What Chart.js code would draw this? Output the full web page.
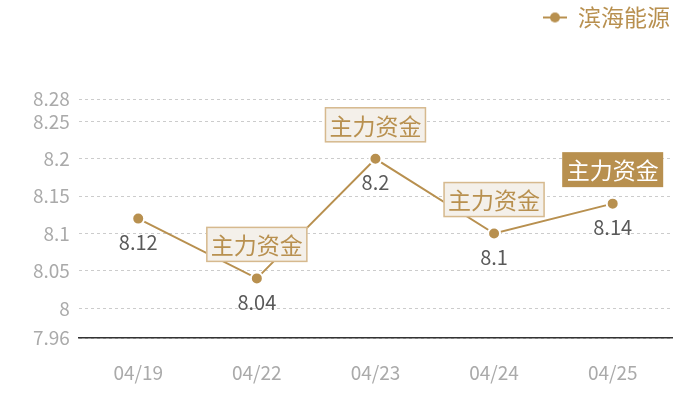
<!DOCTYPE html>
<html>
<head>
<meta charset="utf-8">
<script src="https://cdn.jsdelivr.net/npm/chart.js@4"></script>
<style>
  html, body { margin: 0; padding: 0; background: #fff; }
  #wrap { width: 700px; height: 400px; }
</style>
</head>
<body>
<div id="wrap"><canvas id="myChart"></canvas></div>
<script>
var dates = ['04/19', '04/22', '04/23', '04/24', '04/25'];
var prices = [8.12, 8.04, 8.2, 8.1, 8.14];
// 0 = no tag, 1 = light tag, 2 = filled tag
var tags = [0, 1, 1, 1, 2];
var tagText = '主力资金';
var yTicks = [7.96, 8, 8.05, 8.1, 8.15, 8.2, 8.25, 8.28];

var gold = '#b8904f';
var fontFam = '"Noto Sans CJK SC", "Open Sans", sans-serif';

// legend marker: short line with a dot
var legendIcon = document.createElement('canvas');
legendIcon.width = 24; legendIcon.height = 12;
var lc = legendIcon.getContext('2d');
lc.strokeStyle = gold; lc.lineWidth = 2;
lc.beginPath(); lc.moveTo(0, 6); lc.lineTo(24, 6); lc.stroke();
lc.fillStyle = gold;
lc.beginPath(); lc.arc(12, 6, 5, 0, Math.PI * 2); lc.fill();

// push the plot down below the legend
var legendGap = {
    id: 'legendGap',
    beforeInit: function(chart) {
        var orig = chart.legend.fit;
        chart.legend.fit = function() {
            orig.bind(chart.legend)();
            this.height += 60;
        };
    }
};

var labelPlugin = {
    id: 'labels',
    afterDatasetsDraw: function(chart) {
        var c = chart.ctx;
        var meta = chart.getDatasetMeta(0);
        c.save();
        meta.data.forEach(function(pt, i) {
            // value below point
            c.font = '20px ' + fontFam;
            c.fillStyle = '#595959';
            c.textAlign = 'center';
            c.textBaseline = 'middle';
            c.fillText(String(prices[i]), pt.x, pt.y + 24);

            if (!tags[i]) return;
            var w = 101, h = 35;
            var bx = pt.x - w / 2, by = pt.y - 34 - h / 2;
            if (tags[i] === 2) {
                c.fillStyle = gold;
                c.fillRect(bx, by, w, h);
                c.fillStyle = '#ffffff';
            } else {
                c.fillStyle = '#f4f0ea';
                c.fillRect(bx, by, w, h);
                c.strokeStyle = '#d6b98e';
                c.lineWidth = 1.5;
                c.strokeRect(bx + 0.5, by + 0.5, w - 1, h - 1);
                c.fillStyle = '#b8904f';
            }
            c.font = '23px ' + fontFam;
            c.fillText(tagText, pt.x, by + h / 2 + 1);
        });
        c.restore();
    }
};

var ctx = document.getElementById('myChart').getContext('2d');
var myChart = new Chart(ctx, {
    type: 'line',
    data: {
        labels: dates,
        datasets: [{
            label: '滨海能源',
            data: prices,
            borderColor: gold,
            borderWidth: 2,
            backgroundColor: gold,
            pointBackgroundColor: gold,
            pointBorderColor: '#ffffff',
            pointBorderWidth: 2,
            pointRadius: 6,
            pointHoverRadius: 6,
            pointStyle: 'circle',
            tension: 0
        }]
    },
    options: {
        responsive: true,
        maintainAspectRatio: false,
        animation: false,
        layout: { padding: { left: 24, right: 24, top: 0, bottom: 1 } },
        plugins: {
            legend: {
                position: 'top',
                align: 'end',
                labels: {
                    usePointStyle: true,
                    pointStyle: legendIcon,
                    color: gold,
                    font: { size: 23, family: fontFam },
                    padding: 6,
                    boxHeight: 12
                }
            },
            tooltip: { enabled: false }
        },
        scales: {
            x: {
                offset: true,
                grid: { display: false },
                border: { display: true, color: '#333333', width: 1.5 },
                ticks: {
                    color: '#aaaaaa',
                    font: { size: 19, family: fontFam },
                    padding: 15
                }
            },
            y: {
                min: 7.96,
                max: 8.28,
                afterBuildTicks: function(axis) {
                    axis.ticks = yTicks.map(function(v) { return { value: v }; });
                },
                border: { display: false, dash: [3, 3] },
                grid: { color: '#cccccc', lineWidth: 1, drawTicks: false },
                ticks: {
                    color: '#aaaaaa',
                    font: { size: 19, family: fontFam },
                    padding: 9,
                    autoSkip: false,
                    callback: function(v) { return String(Math.round(v * 100) / 100); }
                }
            },
            // empty right axis, only to keep a small gap on the right of the plot
            yGap: {
                position: 'right',
                grid: { display: false },
                border: { display: false },
                ticks: { display: false },
                afterFit: function(axis) { axis.width = 4; }
            }
        }
    },
    plugins: [labelPlugin, legendGap]
});
</script>
</body>
</html>
